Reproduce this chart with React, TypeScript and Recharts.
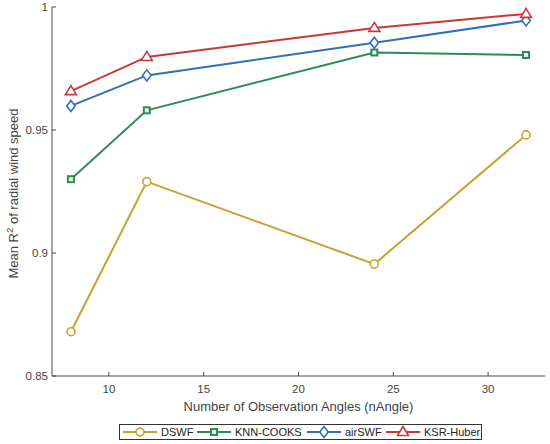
import React from "react"
import { LineChart, Line, XAxis, YAxis, Legend, Label } from "recharts"

// observation angles and mean R^2 per method
const angles = [8, 12, 24, 32]
const dswf = [0.868, 0.929, 0.8955, 0.948]
const knnCooks = [0.930, 0.958, 0.9815, 0.9805]
const airSwf = [0.9598, 0.9722, 0.9855, 0.9945]
const ksrHuber = [0.9658, 0.9797, 0.9915, 0.9972]

const xTicks = [10, 15, 20, 25, 30]
const yTicks = [0.85, 0.9, 0.95, 1]

const SERIES = [
  { key: "dswf", name: "DSWF", color: "#C9A12E", marker: "circle" },
  { key: "knn", name: "KNN-COOKS", color: "#2E8A57", marker: "square" },
  { key: "air", name: "airSWF", color: "#2F6FBE", marker: "diamond" },
  { key: "ksr", name: "KSR-Huber", color: "#C8383B", marker: "triangle" },
]

const data = angles.map((n, i) => ({
  n,
  dswf: dswf[i],
  knn: knnCooks[i],
  air: airSwf[i],
  ksr: ksrHuber[i],
}))

const FONT = "'Liberation Sans', Arial, sans-serif"
const AXIS = "#4a4a4a"
const TEXT = "#444"

function Marker({ type, cx, cy, color }: { type: string; cx: number; cy: number; color: string }) {
  if (type === "circle") return <circle cx={cx} cy={cy} r={4} fill="#fff" stroke={color} strokeWidth={1.6} />
  if (type === "square") return <rect x={cx - 3} y={cy - 3} width={6} height={6} fill="#e8f3ec" stroke={color} strokeWidth={2} />
  if (type === "diamond")
    return <polygon points={`${cx},${cy - 5.5} ${cx + 4.2},${cy} ${cx},${cy + 5.5} ${cx - 4.2},${cy}`} fill="#fff" stroke={color} strokeWidth={1.6} />
  return <polygon points={`${cx},${cy - 5.5} ${cx + 5.5},${cy + 3.5} ${cx - 5.5},${cy + 3.5}`} fill="#fff" stroke={color} strokeWidth={1.6} />
}

const bottomTick = (p: any) => (
  <g>
    <line x1={p.x} y1={p.y} x2={p.x} y2={p.y - 4} stroke={AXIS} />
    <text x={p.x} y={p.y + 17} textAnchor="middle" fontSize={11.5} fontFamily={FONT} fill={TEXT}>{p.payload.value}</text>
  </g>
)
const topTick = (p: any) => <line x1={p.x} y1={p.y} x2={p.x} y2={p.y + 4} stroke={AXIS} />
const leftTick = (p: any) => (
  <g>
    <line x1={p.x} y1={p.y} x2={p.x + 4} y2={p.y} stroke={AXIS} />
    <text x={p.x - 4} y={p.y + 4} textAnchor="end" fontSize={11.5} fontFamily={FONT} fill={TEXT}>{p.payload.value}</text>
  </g>
)
const rightTick = (p: any) => <line x1={p.x} y1={p.y} x2={p.x - 4} y2={p.y} stroke={AXIS} />

// legend item x positions (start of line sample) inside the box
const legendStarts = [4, 78, 188, 267]
const legendWidth = 363

function LegendBox() {
  return (
    <div style={{ marginLeft: 119, width: legendWidth, height: 16, position: "relative" }}>
      <svg width={legendWidth} height={16} style={{ display: "block" }}>
        <rect x={0.5} y={0.5} width={legendWidth - 1} height={15} fill="#fff" stroke="#333" />
        {SERIES.map((s, i) => {
          const x0 = legendStarts[i]
          return (
            <g key={s.key}>
              <line x1={x0} x2={x0 + 34} y1={8} y2={8} stroke={s.color} strokeWidth={2} />
              <Marker type={s.marker} cx={x0 + 17} cy={8} color={s.color} />
              <text x={x0 + 38} y={12} fontSize={11} fontFamily={FONT} fill="#222">{s.name}</text>
            </g>
          )
        })}
      </svg>
    </div>
  )
}

export default function App() {
  return (
    <div style={{ position: "absolute", left: 0, top: 0, width: 550, height: 444, background: "#fff" }}>
      <LineChart width={550} height={444} data={data} margin={{ top: 7, right: 5, bottom: 4, left: 0 }}>
        <XAxis
          dataKey="n"
          type="number"
          domain={[7, 33]}
          ticks={xTicks}
          allowDataOverflow
          height={48}
          tickSize={0}
          tickMargin={0}
          tickLine={false}
          axisLine={{ stroke: AXIS }}
          tick={bottomTick}
          interval={0}
        >
          <Label
            content={({ viewBox }: any) => (
              <text x={viewBox.x + viewBox.width / 2} y={viewBox.y + 35} textAnchor="middle" fontSize={13} fontFamily={FONT} fill={TEXT}>
                Number of Observation Angles (nAngle)
              </text>
            )}
          />
        </XAxis>
        <XAxis
          xAxisId="top"
          orientation="top"
          dataKey="n"
          type="number"
          domain={[7, 33]}
          ticks={xTicks}
          allowDataOverflow
          height={0}
          tickSize={0}
          tickMargin={0}
          tickLine={false}
          axisLine={{ stroke: AXIS }}
          tick={topTick}
          interval={0}
        />
        <YAxis
          type="number"
          domain={[0.85, 1]}
          ticks={yTicks}
          allowDataOverflow
          width={52}
          tickSize={0}
          tickMargin={0}
          tickLine={false}
          axisLine={{ stroke: AXIS }}
          tick={leftTick}
          interval={0}
        >
          <Label
            content={({ viewBox }: any) => {
              const cy = viewBox.y + viewBox.height / 2 + 2
              return (
                <text x={18} y={cy} transform={`rotate(-90 18 ${cy})`} textAnchor="middle" fontSize={13} fontFamily={FONT} fill={TEXT}>
                  Mean R<tspan fontSize={9.5} dy={-5}>2</tspan><tspan dy={5}> of radial wind speed</tspan>
                </text>
              )
            }}
          />
        </YAxis>
        <YAxis
          yAxisId="right"
          orientation="right"
          type="number"
          domain={[0.85, 1]}
          ticks={yTicks}
          allowDataOverflow
          width={0}
          tickSize={0}
          tickMargin={0}
          tickLine={false}
          axisLine={{ stroke: AXIS }}
          tick={rightTick}
          interval={0}
        />
        <Legend verticalAlign="bottom" wrapperStyle={{ left: 0, width: 550, height: 16 }} content={() => <LegendBox />} />
        {SERIES.map(s => (
          <Line
            key={s.key}
            dataKey={s.key}
            name={s.name}
            stroke={s.color}
            strokeWidth={2}
            isAnimationActive={false}
            dot={(p: any) => <Marker key={p.index} type={s.marker} cx={p.cx} cy={p.cy} color={s.color} />}
            activeDot={false}
          />
        ))}
      </LineChart>
    </div>
  )
}
